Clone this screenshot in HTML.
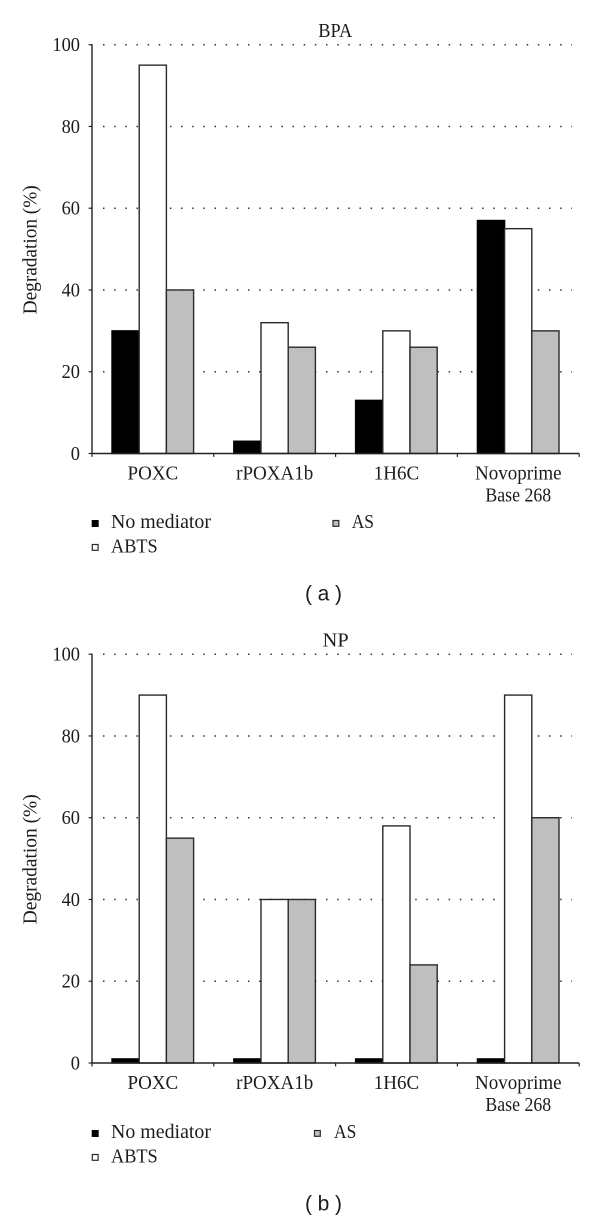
<!DOCTYPE html>
<html lang="en">
<head>
<meta charset="utf-8">
<title>Degradation of BPA and NP</title>
<style>
html,body{margin:0;padding:0;background:#fff;}
svg{display:block;}
text{font-family:"Liberation Serif",serif;fill:#1c1c1c;}
</style>
</head>
<body>
<svg id="figure" xmlns="http://www.w3.org/2000/svg" width="600" height="1220" viewBox="0 0 600 1220">
  <rect x="0" y="0" width="600" height="1220" fill="#fff"/>

  <g id="panel-a"></g>
  <g>
    <text x="318.3" y="37" font-size="20" textLength="34" lengthAdjust="spacingAndGlyphs">BPA</text>
    <text transform="translate(36.7,314.3) rotate(-90)" font-size="20" textLength="129" lengthAdjust="spacingAndGlyphs">Degradation (%)</text>
    <g>
      <rect x="92" y="520.3" width="6.4" height="6.4" fill="#000" stroke="#000" stroke-width="0.6"/>
      <text x="111" y="528" font-size="20" textLength="100" lengthAdjust="spacingAndGlyphs">No mediator</text>
    </g>
    <g>
      <rect x="92.3" y="544.5" width="5.8" height="5.8" fill="#fff" stroke="#2a2a2a" stroke-width="1.2"/>
      <text x="111" y="552.7" font-size="20" textLength="46.7" lengthAdjust="spacingAndGlyphs">ABTS</text>
    </g>
    <g>
      <rect x="333" y="520.5" width="5.8" height="5.8" fill="#bfbfbf" stroke="#2a2a2a" stroke-width="1.2"/>
      <text x="351.7" y="527.8" font-size="20" textLength="22.3" lengthAdjust="spacingAndGlyphs">AS</text>
    </g>
    <text x="305" y="600.5" font-size="21" textLength="37" style="font-family:'Liberation Sans',sans-serif">( a )</text>
  </g>

  <g id="panel-b"></g>
  <g>
    <text x="322.7" y="646.7" font-size="20" textLength="26" lengthAdjust="spacingAndGlyphs">NP</text>
    <text transform="translate(36.7,924.3) rotate(-90)" font-size="20" textLength="130" lengthAdjust="spacingAndGlyphs">Degradation (%)</text>
    <g>
      <rect x="92" y="1130.3" width="6.4" height="6.4" fill="#000" stroke="#000" stroke-width="0.6"/>
      <text x="111" y="1138" font-size="20" textLength="100" lengthAdjust="spacingAndGlyphs">No mediator</text>
    </g>
    <g>
      <rect x="92.3" y="1154.5" width="5.8" height="5.8" fill="#fff" stroke="#2a2a2a" stroke-width="1.2"/>
      <text x="111" y="1162.7" font-size="20" textLength="46.7" lengthAdjust="spacingAndGlyphs">ABTS</text>
    </g>
    <g>
      <rect x="314.5" y="1130.5" width="5.8" height="5.8" fill="#bfbfbf" stroke="#2a2a2a" stroke-width="1.2"/>
      <text x="334" y="1137.8" font-size="20" textLength="22.3" lengthAdjust="spacingAndGlyphs">AS</text>
    </g>
    <text x="305" y="1210.5" font-size="21" textLength="37" style="font-family:'Liberation Sans',sans-serif">( b )</text>
  </g>
</svg>

<script>
const categories = ['POXC', 'rPOXA1b', '1H6C', 'Novoprime|Base 268'];
const tickValues = [0, 20, 40, 60, 80, 100];
const tickLabels = ['0', '20', '40', '60', '80', '100'];
const bpaNoMediator = [30, 3, 13, 57];
const bpaAbts = [95, 32, 30, 55];
const bpaAs = [40, 26, 26, 30];
const npNoMediator = [1, 1, 1, 1];
const npAbts = [90, 40, 58, 90];
const npAs = [55, 40, 24, 60];

const SVG_NS = 'http://www.w3.org/2000/svg';
const AXIS_X = 92;
const GROUP_W = 121.8;
const BAR_OFFSET = 20;
const BAR_W = 27.2;
const PLOT_H = 408.8;
const AXIS_MAX = 100;
const LABEL_SQUEEZE = 0.95;

function make(parent, tag, attrs, content) {
  const el = document.createElementNS(SVG_NS, tag);
  for (const key in attrs) el.setAttribute(key, attrs[key]);
  if (content !== undefined) el.textContent = content;
  parent.appendChild(el);
  return el;
}
function yScale(value, zeroY) { return zeroY - value / AXIS_MAX * PLOT_H; }
function xGroup(index) { return AXIS_X + index * GROUP_W; }
function xBar(index, seriesIndex) { return xGroup(index) + BAR_OFFSET + seriesIndex * BAR_W; }

function drawGridlines(root, zeroY, prefix) {
  const gridEnd = 572;
  tickValues.forEach(function (value) {
    if (value === 0) return;
    const y = yScale(value, zeroY);
    const line = make(root, 'line', { x1: 103, x2: gridEnd, y1: y, y2: y, stroke: '#333', 'stroke-width': 1.5, 'stroke-dasharray': '1.5 9.65' });
    
    
  });
}

function drawSeries(root, values, seriesIndex, fill, stroke, zeroY, seriesName) {
  values.forEach(function (value, i) {
    const top = yScale(value, zeroY);
    const bar = make(root, 'rect', { x: xBar(i, seriesIndex), y: top, width: BAR_W, height: zeroY - top, fill: fill, stroke: stroke, 'stroke-width': 1.4 });
    
    
  });
}

function drawAxes(root, zeroY, prefix, labelBaseline) {
  const yTop = yScale(AXIS_MAX, zeroY);
  const yAxis = make(root, 'line', { x1: AXIS_X, x2: AXIS_X, y1: yTop - 0.6, y2: zeroY + 0.6, stroke: '#222', 'stroke-width': 1.4 });
  
  
  const xEnd = xGroup(categories.length);
  const xAxis = make(root, 'line', { x1: AXIS_X - 0.6, x2: xEnd, y1: zeroY, y2: zeroY, stroke: '#222', 'stroke-width': 1.4 });
  
  

  tickValues.forEach(function (value, i) {
    const y = yScale(value, zeroY);
    const tick = make(root, 'line', { x1: AXIS_X - 3.4, x2: AXIS_X, y1: y, y2: y, stroke: '#222', 'stroke-width': 1.2 });
    
    
    const text = tickLabels[i];
    const label = make(root, 'text', { x: 80, y: y + 6.4, 'text-anchor': 'end', 'font-size': 20, textLength: text.length * 9.2, lengthAdjust: 'spacingAndGlyphs' }, text);
    
    
  });

  for (let i = 0; i <= categories.length; i++) {
    const x = xGroup(i);
    const tick = make(root, 'line', { x1: x, x2: x, y1: zeroY, y2: zeroY + 3.4, stroke: '#222', 'stroke-width': 1.2 });
    
    
  }

  categories.forEach(function (category, i) {
    const cx = xGroup(i) + GROUP_W / 2;
    category.split('|').forEach(function (part, lineIndex) {
      const label = make(root, 'text', { x: cx, y: labelBaseline + lineIndex * 22, 'text-anchor': 'middle', 'font-size': 20 }, part);
      const squeeze = lineIndex ? 0.89 : LABEL_SQUEEZE;
      label.setAttribute('textLength', label.getComputedTextLength() * squeeze);
      label.setAttribute('lengthAdjust', 'spacingAndGlyphs');
      
      
    });
  });
}

function drawPanel(id, prefix, zeroY, labelBaseline, noMediator, abts, as) {
  const root = document.getElementById(id);
  drawGridlines(root, zeroY, prefix);
  drawSeries(root, noMediator, 0, '#000', '#000', zeroY, prefix + '-no-mediator');
  drawSeries(root, abts, 1, '#fff', '#2a2a2a', zeroY, prefix + '-abts');
  drawSeries(root, as, 2, '#bfbfbf', '#2a2a2a', zeroY, prefix + '-as');
  drawAxes(root, zeroY, prefix, labelBaseline);
}

drawPanel('panel-a', 'panel-a', 453.5, 479.5, bpaNoMediator, bpaAbts, bpaAs);
drawPanel('panel-b', 'panel-b', 1063, 1089, npNoMediator, npAbts, npAs);
</script>
</body>
</html>
